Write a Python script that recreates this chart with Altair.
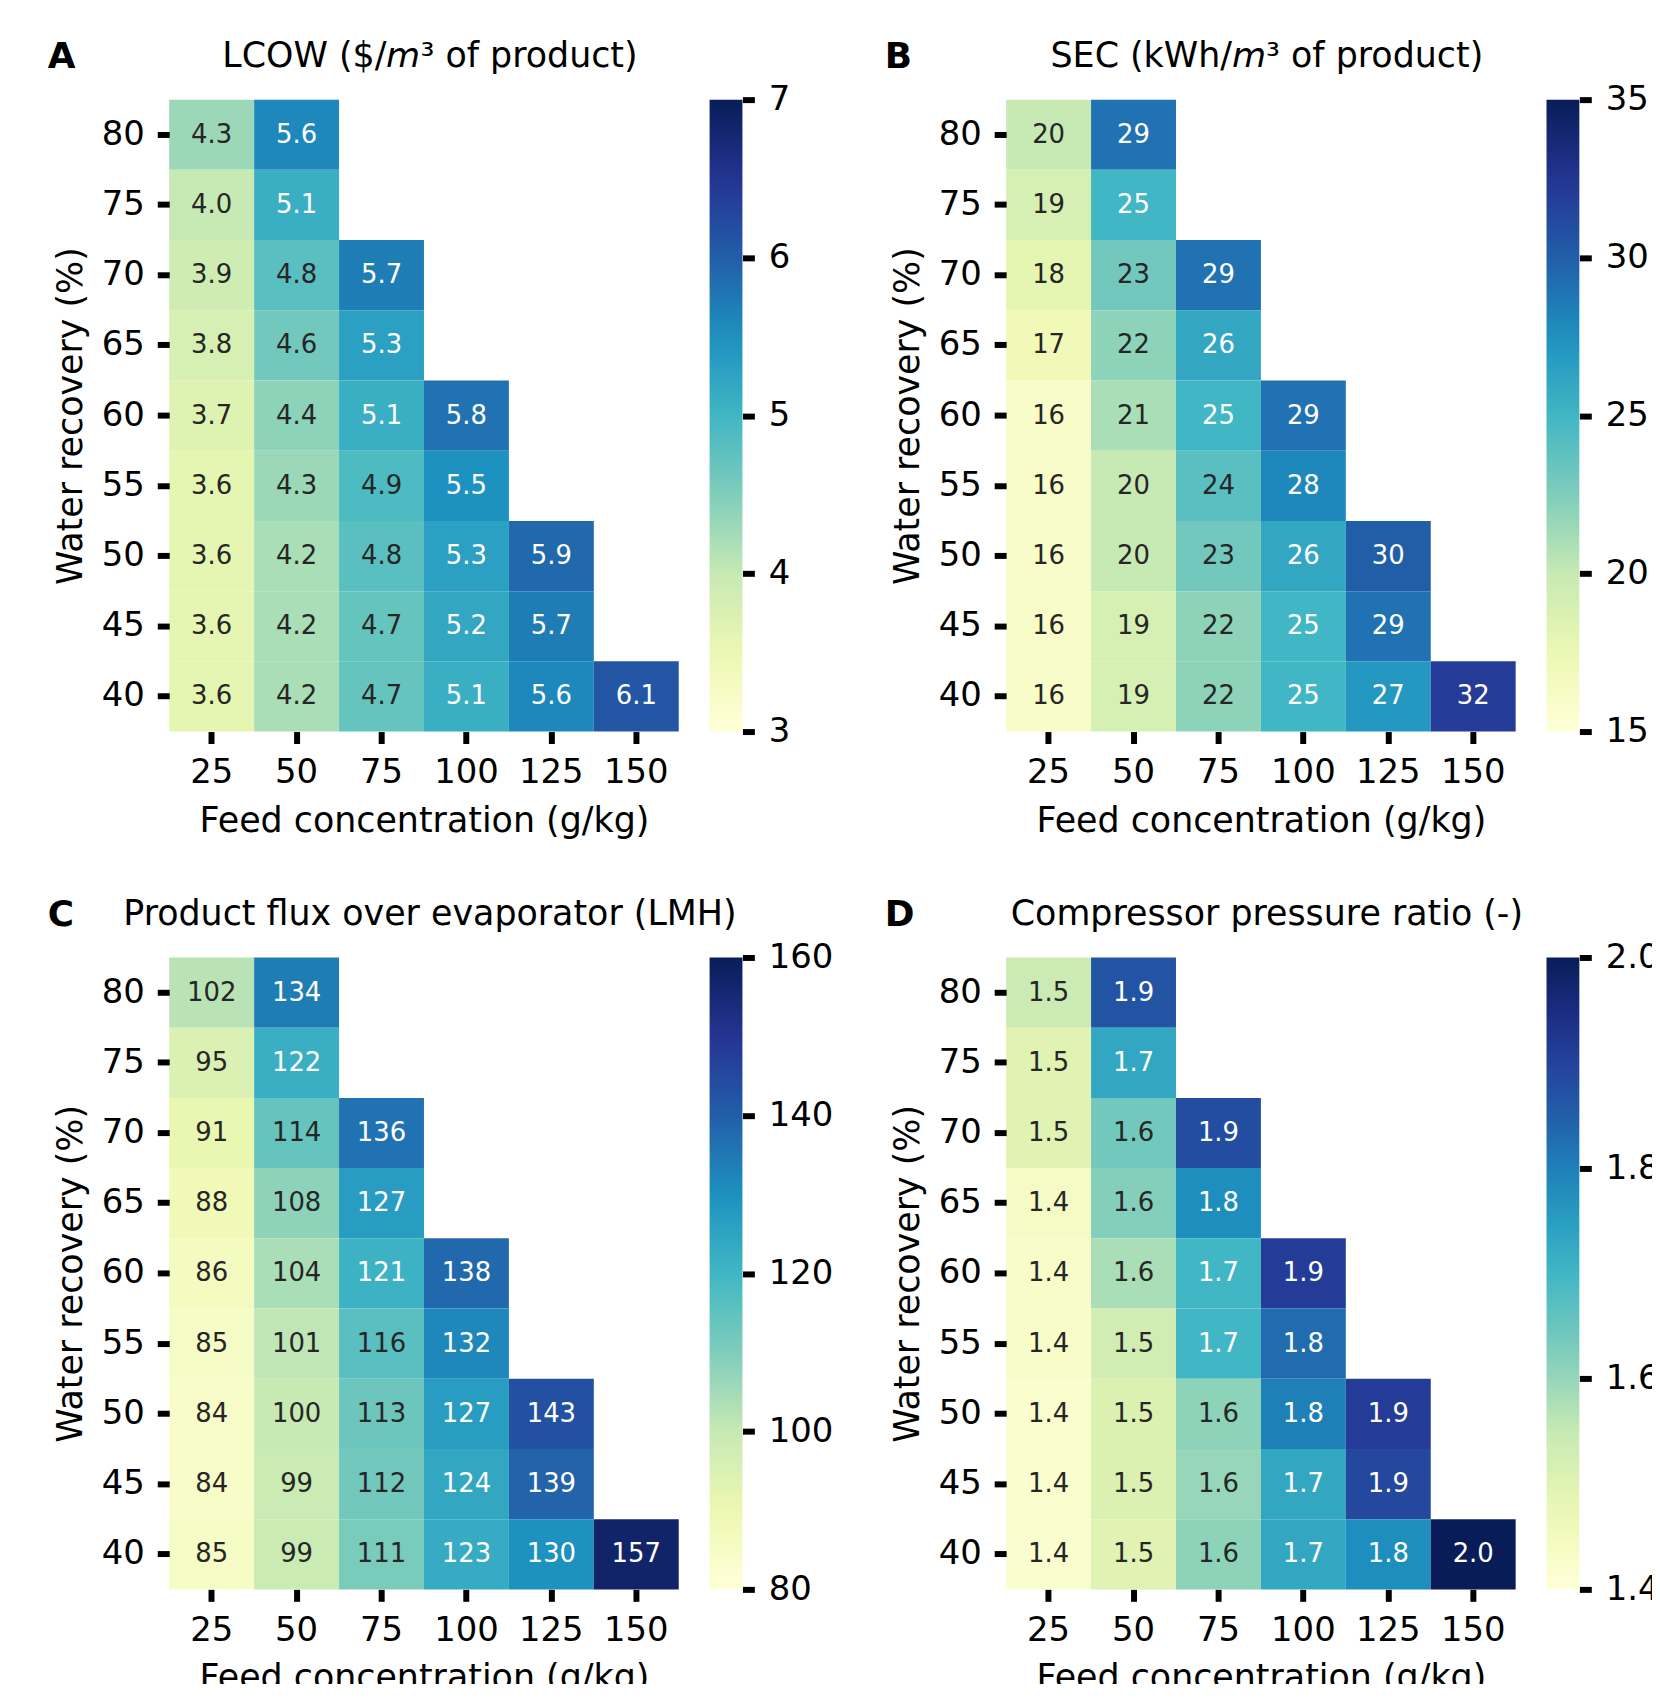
import altair as alt
import pandas as pd

feed = [25, 50, 75, 100, 125, 150]
recovery = [80, 75, 70, 65, 60, 55, 50, 45, 40]

lcow = [
    [4.3, 5.6],
    [4.0, 5.1],
    [3.9, 4.8, 5.7],
    [3.8, 4.6, 5.3],
    [3.7, 4.4, 5.1, 5.8],
    [3.6, 4.3, 4.9, 5.5],
    [3.6, 4.2, 4.8, 5.3, 5.9],
    [3.6, 4.2, 4.7, 5.2, 5.7],
    [3.6, 4.2, 4.7, 5.1, 5.6, 6.1],
]
sec = [
    [20, 29],
    [19, 25],
    [18, 23, 29],
    [17, 22, 26],
    [16, 21, 25, 29],
    [16, 20, 24, 28],
    [16, 20, 23, 26, 30],
    [16, 19, 22, 25, 29],
    [16, 19, 22, 25, 27, 32],
]
flux = [
    [102, 134],
    [95, 122],
    [91, 114, 136],
    [88, 108, 127],
    [86, 104, 121, 138],
    [85, 101, 116, 132],
    [84, 100, 113, 127, 143],
    [84, 99, 112, 124, 139],
    [85, 99, 111, 123, 130, 157],
]
cpr = [
    [1.54, 1.87],
    [1.50, 1.73],
    [1.50, 1.64, 1.88],
    [1.44, 1.62, 1.78],
    [1.43, 1.58, 1.70, 1.91],
    [1.43, 1.53, 1.70, 1.83],
    [1.42, 1.51, 1.61, 1.80, 1.91],
    [1.42, 1.51, 1.60, 1.73, 1.89],
    [1.42, 1.50, 1.61, 1.73, 1.78, 2.00],
]

# matplotlib / ColorBrewer YlGnBu anchor colours
ylgnbu = ["#ffffd9", "#edf8b1", "#c7e9b4", "#7fcdbb", "#41b6c4",
          "#1d91c0", "#225ea8", "#253494", "#081d58"]

FONT = "DejaVu Sans"
W, H = 512, 635


def panel(letter, title, rows, lo, hi, ticks, tfmt, afmt):
    recs = []
    for r, row in zip(recovery, rows):
        for f, v in zip(feed, row):
            recs.append({"rec": r, "feed": f, "v": v})
    df = pd.DataFrame(recs)
    mid = (lo + hi) / 2 - 1e-9
    n = len(ylgnbu) - 1
    stops = [lo + (hi - lo) * i / n for i in range(n + 1)]

    x = alt.X("feed:O", scale=alt.Scale(domain=feed, paddingInner=0, paddingOuter=0),
              axis=alt.Axis(title="Feed concentration (g/kg)", labelAngle=0,
                            labelPadding=12, titlePadding=14))
    y = alt.Y("rec:O", scale=alt.Scale(domain=recovery, paddingInner=0, paddingOuter=0),
              axis=alt.Axis(title="Water recovery (%)", labelPadding=13, titlePadding=13))

    base = alt.Chart(df)
    rect = base.mark_rect().encode(
        x=x, y=y,
        color=alt.Color("v:Q",
                        scale=alt.Scale(type="linear", domain=stops, range=ylgnbu,
                                        interpolate="rgb"),
                        legend=alt.Legend(orient="none", legendX=543, legendY=0,
                                          direction="vertical", title=None,
                                          gradientLength=H, gradientThickness=33,
                                          gradientStrokeWidth=0, labelOpacity=0)),
    )
    text = base.mark_text(font=FONT, fontSize=26).encode(
        x=x, y=y,
        text=alt.Text("v:Q", format=tfmt),
        color=alt.condition(f"datum.v >= {mid}", alt.value("white"), alt.value("#262626")),
    )
    heat = alt.layer(rect, text)

    cb = alt.Chart(pd.DataFrame({"cb": [lo, hi]})).mark_point(opacity=0).encode(
        y=alt.Y("cb:Q", scale=alt.Scale(domain=[lo, hi], nice=False, zero=False),
                axis=alt.Axis(orient="right", offset=64, values=ticks, format=afmt,
                              title=None, labelPadding=14, labelFlush=False))
    )
    lt = alt.Chart(alt.Data(values=[{"t": letter}])).mark_text(
        align="left", baseline="alphabetic", font=FONT, fontSize=36,
        fontWeight="bold", color="black"
    ).encode(text="t:N", x=alt.value(-122), y=alt.value(-32))
    tt = alt.Chart(alt.Data(values=[{"t": title}])).mark_text(
        align="center", baseline="alphabetic", font=FONT, fontSize=35, color="black"
    ).encode(text="t:N", x=alt.value(W / 2 + 6), y=alt.value(-33))

    return alt.layer(heat, cb, lt, tt).resolve_scale(y="independent").properties(
        width=W, height=H)


pA = panel("A", "LCOW ($/\U0001D62E³ of product)", lcow, 3, 7, [3, 4, 5, 6, 7], ".1f", "d")
pB = panel("B", "SEC (kWh/\U0001D62E³ of product)", sec, 15, 35, [15, 20, 25, 30, 35], ".0f", "d")
pC = panel("C", "Product flux over evaporator (LMH)", flux, 80, 160,
           [80, 100, 120, 140, 160], ".0f", "d")
pD = panel("D", "Compressor pressure ratio (-)", cpr, 1.4, 2.0,
           [1.4, 1.6, 1.8, 2.0], ".1f", ".1f")

chart = alt.concat(pA, pB, pC, pD, columns=2,
                   spacing={"row": 227, "column": 329}, bounds="flush").resolve_scale(
    color="independent").properties(
    padding={"left": 40, "top": 27, "right": -8, "bottom": -16}
).configure_view(stroke=None).configure_axis(
    labelFont=FONT, labelFontSize=34, labelColor="black",
    titleFont=FONT, titleFontSize=35, titleFontWeight="normal", titleColor="black",
    tickColor="black", tickWidth=6, tickSize=12, domain=False, grid=False,
)

chart.save("out.html", embed_options={"renderer": "svg", "actions": False})
